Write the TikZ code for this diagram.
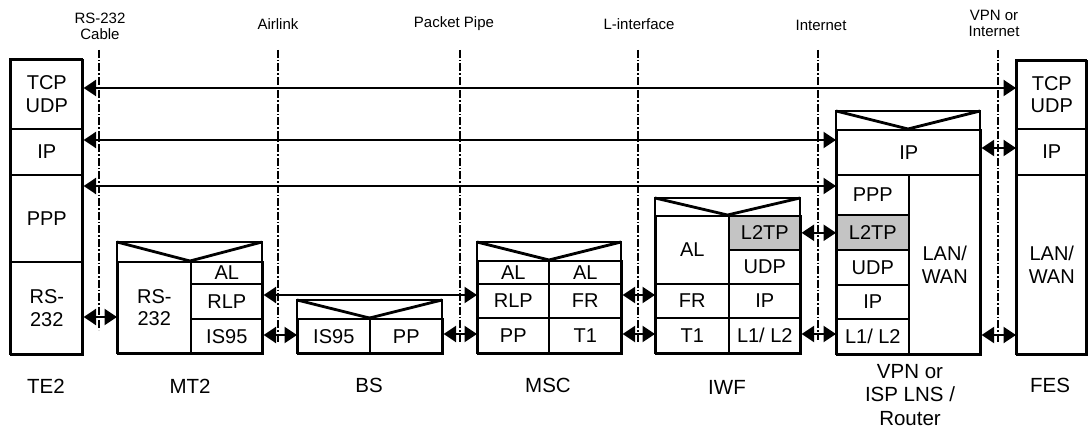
\documentclass[tikz,border=0pt]{standalone}
\usepackage{fontspec}
\setmainfont{Liberation Sans}
\usetikzlibrary{arrows.meta}
\definecolor{tpgray}{RGB}{196,196,196}
\newcommand{\cellfont}{\fontsize{20}{22.5}\selectfont}
\newcommand{\topfont}{\fontsize{15}{16}\selectfont}
\newcommand{\devfont}{\fontsize{20.5}{23.5}\selectfont}
\tikzset{
  cell/.style={draw,line width=1.6pt,anchor=north west,inner sep=0pt,align=center,font=\cellfont},
  unit/.style={line width=2.8pt},
  iface/.style={line width=1.3pt,dash pattern=on 8pt off 2pt on 1.5pt off 2pt},
  tip/.tip={Triangle[length=12.5pt 0,width=16pt 0]},
  link/.style={line width=2.4pt,tip-tip},
  toplbl/.style={align=center,font=\topfont,inner sep=0pt},
  devlbl/.style={align=center,font=\devfont,inner sep=0pt}
}
\begin{document}
\begin{tikzpicture}[x=1pt,y=-1pt]
			\useasboundingbox (0,0) rectangle (1091,430);
			\node[cell,minimum width=72pt,minimum height=69pt] (te2tcp) at (10,59) {TCP\\UDP};
			\node[cell,minimum width=72pt,minimum height=46pt] (te2ip) at (10,128) {IP};
			\node[cell,minimum width=72pt,minimum height=87pt] (te2ppp) at (10,174) {PPP};
			\node[cell,minimum width=72pt,minimum height=93pt] (te2rs) at (10,261) {RS-\\232};
			\draw[unit] (10,59) rectangle (82,354);
			\node[cell,minimum width=73pt,minimum height=92pt] (mt2rs) at (117,261) {RS-\\232};
			\node[cell,minimum width=72pt,minimum height=22pt] (mt2al) at (190,261) {AL};
			\node[cell,minimum width=72pt,minimum height=35pt] (mt2rlp) at (190,283) {RLP};
			\node[cell,minimum width=72pt,minimum height=35pt] (mt2is) at (190,318) {IS95};
			\draw[unit] (117,242) rectangle (262,353);
			\draw[unit] (117,242) -- (190,261) -- (262,242);
			\node[cell,minimum width=72pt,minimum height=35pt] (bsis) at (297,318) {IS95};
			\node[cell,minimum width=73pt,minimum height=35pt] (bspp) at (369,318) {PP};
			\draw[unit] (297,300) rectangle (442,353);
			\draw[unit] (297,300) -- (369.5,318) -- (442,300);
			\node[cell,minimum width=71pt,minimum height=23pt] (mscal) at (477,260) {AL};
			\node[cell,minimum width=73pt,minimum height=23pt] (mscal2) at (548,260) {AL};
			\node[cell,minimum width=71pt,minimum height=34pt] (mscrlp) at (477,283) {RLP};
			\node[cell,minimum width=73pt,minimum height=34pt] (mscfr) at (548,283) {FR};
			\node[cell,minimum width=71pt,minimum height=36pt] (mscpp) at (477,317) {PP};
			\node[cell,minimum width=73pt,minimum height=36pt] (msct1) at (548,317) {T1};
			\draw[unit] (477,242) rectangle (621,353);
			\draw[unit] (477,242) -- (549,260) -- (621,242);
			\node[cell,minimum width=73pt,minimum height=68pt] (iwfal) at (655,215) {AL};
			\node[cell,minimum width=73pt,minimum height=34pt] (iwffr) at (655,283) {FR};
			\node[cell,minimum width=73pt,minimum height=36pt] (iwft1) at (655,317) {T1};
			\node[cell,fill=tpgray,minimum width=72pt,minimum height=34pt] (iwfl2tp) at (728,215) {L2TP};
			\node[cell,minimum width=72pt,minimum height=34pt] (iwfudp) at (728,249) {UDP};
			\node[cell,minimum width=72pt,minimum height=34pt] (iwfip) at (728,283) {IP};
			\node[cell,minimum width=72pt,minimum height=36pt] (iwfl1) at (728,317) {L1/ L2};
			\draw[unit] (655,198) rectangle (800,353);
			\draw[unit] (655,198) -- (727.5,215) -- (800,198);
			\node[cell,minimum width=144pt,minimum height=45pt] (vpnip) at (836,129) {IP};
			\node[cell,minimum width=72pt,minimum height=40pt] (vpnppp) at (836,174) {PPP};
			\node[cell,fill=tpgray,minimum width=72pt,minimum height=35pt] (vpnl2tp) at (836,214) {L2TP};
			\node[cell,minimum width=72pt,minimum height=35pt] (vpnudp) at (836,249) {UDP};
			\node[cell,minimum width=72pt,minimum height=34pt] (vpnip2) at (836,284) {IP};
			\node[cell,minimum width=72pt,minimum height=36pt] (vpnl1) at (836,318) {L1/ L2};
			\node[cell,minimum width=72pt,minimum height=180pt] (vpnlan) at (908,174) {LAN/\\WAN};
			\draw[unit] (836,111) rectangle (980,354);
			\draw[unit] (836,111) -- (908,129) -- (980,111);
			\node[cell,minimum width=70pt,minimum height=68pt] (festcp) at (1016,60) {TCP\\UDP};
			\node[cell,minimum width=70pt,minimum height=46pt] (fesip) at (1016,128) {IP};
			\node[cell,minimum width=70pt,minimum height=180pt] (feslan) at (1016,174) {LAN/\\WAN};
			\draw[unit] (1016,60) rectangle (1086,354);
			\draw[link] (te2tcp.east |- 0,88) -- (festcp.west |- 0,88);
			\draw[link] (te2ip.east |- 0,140) -- (vpnip.west |- 0,140);
			\draw[link] (te2ppp.east |- 0,186) -- (vpnppp.west |- 0,186);
			\draw[link] (te2rs.east |- 0,317) -- (mt2rs.west |- 0,317);
			\draw[link] (mt2is.east |- 0,335) -- (bsis.west |- 0,335);
			\draw[link] (mt2rlp.east |- 0,295) -- (mscrlp.west |- 0,295);
			\draw[link] (bspp.east |- 0,334) -- (mscpp.west |- 0,334);
			\draw[link] (mscfr.east |- 0,295) -- (iwffr.west |- 0,295);
			\draw[link] (msct1.east |- 0,334) -- (iwft1.west |- 0,334);
			\draw[link] (iwfl2tp.east) -- (vpnl2tp.west |- iwfl2tp.east);
			\draw[link] (iwfl1.east |- 0,334) -- (vpnl1.west |- 0,334);
			\draw[link] (vpnip.east |- 0,148) -- (fesip.west |- 0,148);
			\draw[link] (vpnlan.east |- 0,335) -- (feslan.west |- 0,335);
			\draw[iface] (99,50) -- (99,330);
			\draw[iface] (278,50) -- (278,342);
			\draw[iface] (460,50) -- (460,342);
			\draw[iface] (638,50) -- (638,342);
			\draw[iface] (818,50) -- (818,340);
			\draw[iface] (998,50) -- (998,342);
			\node[toplbl] (rscable) at (100,26) {RS-232\\Cable};
			\node[toplbl] (airlink) at (278,24) {Airlink};
			\node[toplbl] (pktpipe) at (454,24) {Packet Pipe};
			\node[toplbl] (linterf) at (639,24) {L-interface};
			\node[toplbl] (inet) at (821,25) {Internet};
			\node[toplbl] (vpninet) at (994,23) {VPN or\\Internet};
			\node[devlbl] (te2lbl) at (46,386) {TE2};
			\node[devlbl] (mt2lbl) at (190,386) {MT2};
			\node[devlbl] (bslbl) at (369,385) {BS};
			\node[devlbl] (msclbl) at (548,385) {MSC};
			\node[devlbl] (iwflbl) at (727,387) {IWF};
			\node[devlbl] (vpnlbl) at (910,395) {VPN or\\ISP LNS /\\Router};
			\node[devlbl] (feslbl) at (1050,385) {FES};
		\end{tikzpicture}
\end{document}
